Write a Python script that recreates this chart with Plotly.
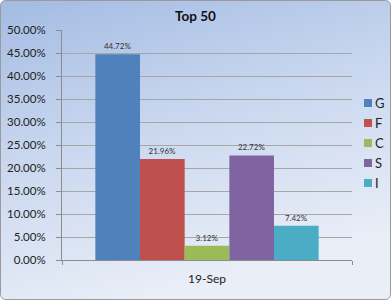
import base64
import plotly.graph_objects as go

categories = ["19-Sep"]
series_names = ["G", "F", "C", "S", "I"]
series_values = [0.4472, 0.2196, 0.0312, 0.2272, 0.0742]
series_colors = ["#4F81BD", "#C0504D", "#9BBB59", "#8064A2", "#4BACC6"]
y_ticks = [0, 0.05, 0.10, 0.15, 0.20, 0.25, 0.30, 0.35, 0.40, 0.45, 0.50]

W, H = 391, 300
L, R, T, B = 62, 39, 30, 40
PW, PH = W - L - R, H - T - B

svg = f'''<svg xmlns="http://www.w3.org/2000/svg" width="{W}" height="{H}" viewBox="0 0 {W} {H}">
<defs><linearGradient id="g" x1="0" y1="0" x2="0.35" y2="1">
<stop offset="0" stop-color="#A3BBE3"/>
<stop offset="0.45" stop-color="#C6D5EE"/>
<stop offset="1" stop-color="#E9EEF7"/>
</linearGradient></defs>
<rect x="0.5" y="0.5" width="{W-1}" height="{H-1}" rx="5" ry="5" fill="url(#g)" stroke="#9A9A9A" stroke-width="1"/>
</svg>'''
src = "data:image/svg+xml;base64," + base64.b64encode(svg.encode()).decode()

fig = go.Figure()
for name, val, col in zip(series_names, series_values, series_colors):
    fig.add_trace(go.Bar(
        x=categories, y=[val], name=name,
        marker=dict(color=col, line=dict(width=8, color="rgba(0,0,0,0)")),
        texttemplate="%{y:.2%}", textposition="outside",
        textfont=dict(size=8, color="#333333", family="Lato"),
        cliponaxis=False, showlegend=False,
    ))

# legend drawn as colored squares + labels (right side)
shapes = []
annotations = []
for i, (name, col) in enumerate(zip(series_names, series_colors)):
    yc = 103 + 20 * i
    shapes.append(dict(type="rect", xref="paper", yref="paper",
                       x0=(364 - L) / PW, x1=(372 - L) / PW,
                       y0=(H - B - (yc + 4)) / PH, y1=(H - B - (yc - 4)) / PH,
                       fillcolor=col, line=dict(width=0), layer="above"))
    annotations.append(dict(text=name, xref="paper", yref="paper",
                            x=(373 - L) / PW, y=(H - B - yc) / PH,
                            xanchor="left", yanchor="middle", showarrow=False,
                            font=dict(family="Lato", size=13, color="#222222")))

fig.update_layout(
    width=W, height=H,
    margin=dict(l=L, r=R, t=T, b=B, autoexpand=False),
    paper_bgcolor="rgba(0,0,0,0)",
    plot_bgcolor="white",
    font=dict(family="Lato", size=12, color="#222222"),
    barmode="group", bargap=0.23, bargroupgap=0,
    title=dict(text="<b>Top 50</b>", xref="container", x=195.5 / W, xanchor="center",
               yref="container", y=1 - 16 / H, yanchor="middle",
               font=dict(family="Lato", size=13.5, color="#111111")),
    showlegend=False,
    shapes=shapes, annotations=annotations,
    images=[dict(source=src, xref="paper", yref="paper", x=-L / PW, y=1 + T / PH,
                 sizex=W / PW, sizey=H / PH, xanchor="left", yanchor="top",
                 sizing="stretch", layer="below")],
)
fig.update_yaxes(range=[0, 0.5], tickvals=y_ticks, tickformat=".2%",
                 showgrid=True, gridcolor="#A6A6A6", gridwidth=1,
                 ticks="outside", ticklen=5, tickcolor="#8C8C8C",
                 ticklabelstandoff=8,
                 showline=True, linecolor="#8C8C8C", zeroline=False,
                 tickfont=dict(size=11.5))
fig.update_xaxes(showline=True, linecolor="#8C8C8C", ticks="outside",
                 tickson="boundaries", ticklen=4, tickcolor="#8C8C8C",
                 ticklabelstandoff=8, tickfont=dict(size=12))

fig.write_html("out.html")
